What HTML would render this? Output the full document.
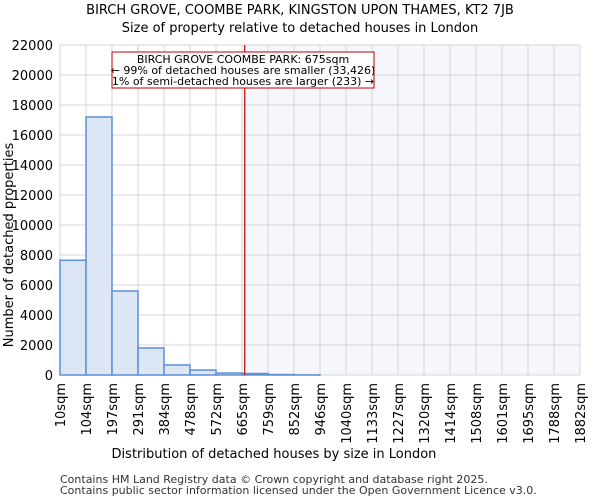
<!DOCTYPE html>
<html><head><meta charset="utf-8"><style>
body{margin:0;background:#fff;font-family:"DejaVu Sans","Liberation Sans",sans-serif;}
</style></head><body>
<svg width="600" height="500" xmlns="http://www.w3.org/2000/svg" font-family="DejaVu Sans, Liberation Sans, sans-serif">
<text x="300" y="14" text-anchor="middle" font-size="13">BIRCH GROVE, COOMBE PARK, KINGSTON UPON THAMES, KT2 7JB</text>
<text x="300" y="32" text-anchor="middle" font-size="13">Size of property relative to detached houses in London</text>
<g id="plot"></g>
<text x="274" y="458" text-anchor="middle" font-size="13">Distribution of detached houses by size in London</text>
<text transform="translate(13,245) rotate(-90)" text-anchor="middle" font-size="13">Number of detached properties</text>
<text x="60" y="483" font-size="11" fill="#333">Contains HM Land Registry data © Crown copyright and database right 2025.</text>
<text x="60" y="494" font-size="11" fill="#333">Contains public sector information licensed under the Open Government Licence v3.0.</text>
</svg>
<script>
const categories=["10sqm","104sqm","197sqm","291sqm","384sqm","478sqm","572sqm","665sqm","759sqm","852sqm","946sqm","1040sqm","1133sqm","1227sqm","1320sqm","1414sqm","1508sqm","1601sqm","1695sqm","1788sqm","1882sqm"];
const counts=[7650,17200,5600,1800,670,330,130,100,30,5,0,0,0,0,0,0,0,0,0,0];
const yTicks=[0,2000,4000,6000,8000,10000,12000,14000,16000,18000,20000,22000];
const markerValue=675;
const NS="http://www.w3.org/2000/svg";
const X0=60,X1=580,Y0=375,Y1=45,YMAX=22000;
const minV=10,maxV=1882;
const n=counts.length;
const xBin=i=>X0+(X1-X0)*i/n;
const xVal=v=>X0+(X1-X0)*(v-minV)/(maxV-minV);
const y=v=>Y0-(Y0-Y1)*v/YMAX;
const g=document.getElementById('plot');
function mk(t,a){const e=document.createElementNS(NS,t);for(const k in a)e.setAttribute(k,a[k]);g.appendChild(e);return e;}
const mx=xVal(markerValue);
let e=mk('rect',{x:mx,y:Y1,width:X1-mx,height:Y0-Y1,fill:'#f5f7fd'});


yTicks.forEach(t=>{
 let l=mk('line',{x1:X0,x2:X1,y1:y(t),y2:y(t),stroke:'#d4d4d4','stroke-width':1});
 
 
 let tx=mk('text',{x:X0-7,y:y(t)+5,'text-anchor':'end','font-size':'13'});
 tx.textContent=t;
 
 
});
categories.forEach((c,i)=>{
 const x=xBin(i);
 let l=mk('line',{x1:x,x2:x,y1:Y1,y2:Y0,stroke:'#d4d4d4','stroke-width':1});
 
 
 let tx=mk('text',{transform:`translate(${x+5},${Y0+8}) rotate(-90)`,'text-anchor':'end','font-size':'13'});
 tx.textContent=c;
 
 
});
counts.forEach((v,i)=>{
 if(v<=0)return;
 let r=mk('rect',{x:xBin(i),y:y(v),width:xBin(i+1)-xBin(i),height:Y0-y(v),fill:'#dce6f4',stroke:'#5b8fd6','stroke-width':1.5});
 
 
});
e=mk('line',{x1:mx,x2:mx,y1:Y1,y2:Y0,stroke:'#c00000','stroke-width':1.2});


e=mk('rect',{x:112,y:52,width:262,height:36,fill:'#fff',stroke:'#c00000','stroke-width':1});


const lines=["BIRCH GROVE COOMBE PARK: 675sqm","← 99% of detached houses are smaller (33,426)","1% of semi-detached houses are larger (233) →"];
lines.forEach((s,i)=>{
 let t=mk('text',{x:243,y:63+i*11,'text-anchor':'middle','font-size':'11'});
 t.textContent=s;
 
 
});
</script>
</body></html>
